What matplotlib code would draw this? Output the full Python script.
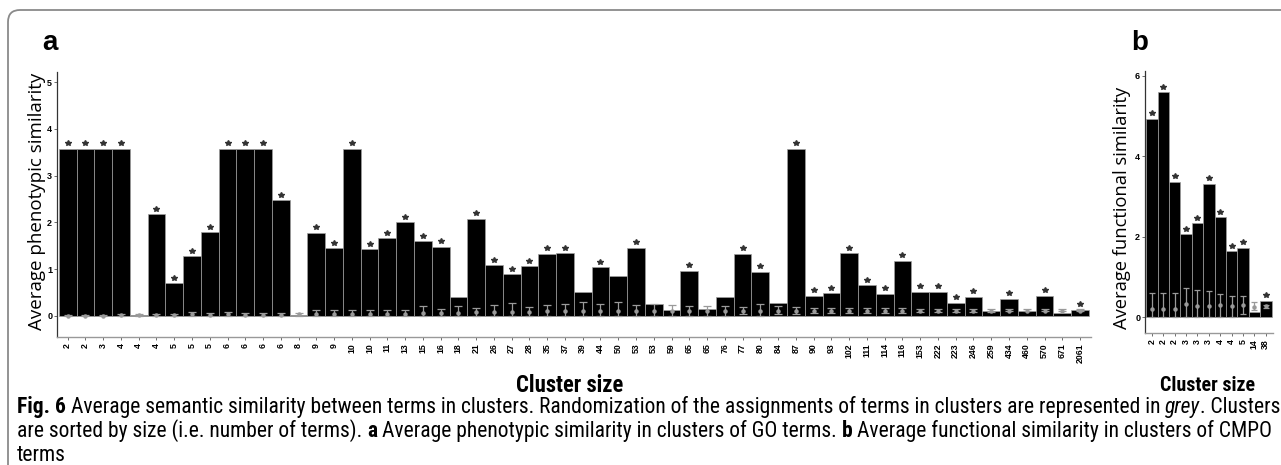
import matplotlib
matplotlib.use("Agg")
import matplotlib.pyplot as plt
from matplotlib import font_manager
from matplotlib.patches import FancyBboxPatch
from matplotlib.transforms import IdentityTransform

# ---------------- data ----------------
labels_a = ["2", "2", "3", "4", "4", "4", "5", "5", "5", "6", "6", "6", "6", "8",
            "9", "9", "10", "10", "11", "13", "15", "16", "18", "21", "26", "27", "28",
            "35", "37", "39", "44", "50", "53", "53", "59", "65", "65", "76", "77", "80",
            "84", "87", "90", "93", "102", "111", "114", "116", "153", "222", "223",
            "246", "259", "434", "460", "570", "671", "2061"]
values_a = [3.58, 3.58, 3.58, 3.58, 0.02, 2.17, 0.69, 1.27, 1.79, 3.58, 3.58, 3.58,
            2.47, 0.02, 1.78, 1.44, 3.58, 1.42, 1.66, 2.00, 1.59, 1.47, 0.41, 2.07,
            1.08, 0.89, 1.06, 1.32, 1.34, 0.50, 1.04, 0.84, 1.45, 0.26, 0.12, 0.96,
            0.14, 0.40, 1.32, 0.94, 0.27, 3.58, 0.42, 0.48, 1.34, 0.65, 0.47, 1.17,
            0.51, 0.51, 0.28, 0.40, 0.10, 0.36, 0.09, 0.42, 0.05, 0.12]
signif_a = [1, 1, 1, 1, 0, 1, 1, 1, 1, 1, 1, 1, 1, 0, 1, 1, 1, 1, 1, 1, 1, 1, 0, 1,
            1, 1, 1, 1, 1, 0, 1, 0, 1, 0, 0, 1, 0, 0, 1, 1, 0, 1, 1, 1, 1, 1, 1, 1,
            1, 1, 1, 1, 0, 1, 0, 1, 0, 1]
rand_mean_a = [0, 0, 0, 0.01, 0.01, 0.01, 0.02, 0.03, 0.02, 0.03, 0.02, 0.02, 0.02, 0.03,
               0.03, 0.03, 0.03, 0.03, 0.03, 0.03, 0.05, 0.05,
               0.06, 0.07, 0.08, 0.08, 0.08, 0.10, 0.10, 0.10, 0.10, 0.10, 0.10, 0.10,
               0.10, 0.10, 0.10, 0.10,
               0.11, 0.11, 0.11, 0.11, 0.11, 0.11, 0.11, 0.11, 0.11, 0.11,
               0.10, 0.10, 0.10, 0.10, 0.10, 0.10, 0.10, 0.10, 0.10, 0.10]
rand_lo_a = [0] * 38 + [0.03, 0.0, 0.03, 0.04, 0.05, 0.05, 0.05, 0.05, 0.05, 0.05,
                        0.07, 0.07, 0.07, 0.07, 0.08, 0.09, 0.09, 0.09, 0.09, 0.09]
rand_hi_a = [0.01, 0.01, 0.01, 0.03, 0.03, 0.03, 0.04, 0.07, 0.05, 0.07, 0.05, 0.05, 0.05, 0.06,
             0.13, 0.13, 0.12, 0.13, 0.12, 0.12, 0.21, 0.14,
             0.20, 0.17, 0.22, 0.27, 0.18, 0.22, 0.26, 0.29, 0.26, 0.29, 0.23, 0.25,
             0.22, 0.21, 0.20, 0.20,
             0.19, 0.24, 0.21, 0.18, 0.17, 0.17, 0.17, 0.17, 0.17, 0.17,
             0.15, 0.15, 0.15, 0.15, 0.14, 0.14, 0.14, 0.14, 0.14, 0.14]

labels_b = ["2", "2", "2", "3", "3", "3", "4", "4", "5", "14", "38"]
values_b = [4.94, 5.59, 3.37, 2.06, 2.34, 3.32, 2.49, 1.64, 1.72, 0.14, 0.41]
signif_b = [1, 1, 1, 1, 1, 1, 1, 1, 1, 0, 1]
rand_mean_b = [0.20, 0.20, 0.20, 0.32, 0.28, 0.27, 0.30, 0.28, 0.30, 0.25, 0.28]
rand_lo_b = [0, 0, 0, 0, 0, 0, 0, 0.02, 0.08, 0.18, 0.24]
rand_hi_b = [0.61, 0.60, 0.60, 0.72, 0.67, 0.65, 0.58, 0.53, 0.52, 0.37, 0.30]

yticks_a = [0, 1, 2, 3, 4, 5]
yticks_b = [0, 2, 4, 6]

# ---------------- figure ----------------
W, H = 1281, 465
fig = plt.figure(figsize=(W / 100, H / 100), dpi=100)
fig.patch.set_facecolor("white")

# look for an installed condensed sans face (caption font of the reference is condensed)
COND_FAM, COND_STRETCH = "Lato", "normal"
_pref = ["Liberation Sans Narrow", "Roboto Condensed", "Open Sans Condensed",
         "Noto Sans", "DejaVu Sans", "Roboto", "Open Sans", "Liberation Sans"]
_found = {}
for _f in font_manager.fontManager.ttflist:
    _nm = _f.name
    if "Mono" in _nm or "Serif" in _nm:
        continue
    _st = str(_f.stretch).lower()
    if "condensed" in _st or "narrow" in _nm.lower() or "condensed" in _nm.lower():
        _found.setdefault(_nm, _f.stretch)
for _nm in _pref:
    if _nm in _found:
        COND_FAM, COND_STRETCH = _nm, _found[_nm]
        break

TICKFONT = ["Liberation Sans", "DejaVu Sans"]
LABFONT = ["Open Sans", "DejaVu Sans"]
CAPFONT = [COND_FAM, "Lato", "DejaVu Sans"]
GREY = "#9a9a9a"


def make_panel(rect, labels, vals, sig, rmean, rlo, rhi, ylim, yticks, star_off, cap):
    ax = fig.add_axes(rect)
    n = len(vals)
    x = list(range(n))
    ax.bar(x, vals, width=1.0, color="black", edgecolor="#a0a0a0", linewidth=0.5, zorder=2)
    lo_err = [m - l for m, l in zip(rmean, rlo)]
    hi_err = [h - m for m, h in zip(rmean, rhi)]
    ax.errorbar(x, rmean, yerr=[lo_err, hi_err], fmt="o", color=GREY, ms=2.2,
                elinewidth=0.9, capsize=cap, capthick=0.9, zorder=3)
    sx = [i for i in x if sig[i]]
    sy = [vals[i] + star_off for i in sx]
    ax.plot(sx, sy, linestyle="none", marker="*", color="#333333", ms=4.2, zorder=4)
    ax.set_xlim(-0.6, n - 0.4)
    ax.set_ylim(*ylim)
    ax.set_xticks(x)
    ax.set_xticklabels(labels, rotation=90, fontsize=6.3, fontweight="bold",
                       family=TICKFONT, va="top")
    ax.set_yticks(yticks)
    ax.set_yticklabels([str(t) for t in yticks], fontsize=6.5, fontweight="bold",
                       family=TICKFONT)
    for s in ("top", "right"):
        ax.spines[s].set_visible(False)
    ax.spines["left"].set_color("#333333")
    ax.spines["left"].set_linewidth(0.9)
    ax.spines["bottom"].set_color("#999999")
    ax.spines["bottom"].set_linewidth(1.0)
    ax.tick_params(axis="x", length=2.5, width=0.6, color="#555555", pad=2)
    ax.tick_params(axis="y", length=2, width=0.6, color="#555555", pad=1.5)
    ax.set_facecolor("white")
    return ax


ax_a = make_panel([57 / W, 1 - 336.7 / H, (1090.7 - 57) / W, (336.7 - 72) / H],
                  labels_a, values_a, signif_a, rand_mean_a, rand_lo_a, rand_hi_a,
                  (-0.45, 5.22), yticks_a, 0.12, 3.0)
ax_b = make_panel([1145 / W, 1 - 333 / H, (1272.7 - 1145) / W, (333 - 70.7) / H],
                  labels_b, values_b, signif_b, rand_mean_b, rand_lo_b, rand_hi_b,
                  (-0.39, 6.13), yticks_b, 0.14, 2.0)

renderer = fig.canvas.get_renderer()


def ext(t):
    return t.get_window_extent(renderer=renderer)


def fit(t, target, horizontal=True):
    bb = ext(t)
    cur = bb.width if horizontal else bb.height
    t.set_fontsize(t.get_fontsize() * target / cur)


# panel letters
fig.text(50 / W, 1 - 43 / H, "a", fontsize=20, fontweight="bold",
         family=TICKFONT, ha="center", va="center")
fig.text(1140 / W, 1 - 43 / H, "b", fontsize=20, fontweight="bold",
         family=TICKFONT, ha="center", va="center")

# axis titles
ya = fig.text(37 / W, 1 - 201 / H, "Average phenotypic similarity", rotation=90,
              fontsize=12.5, family=LABFONT, ha="center", va="center")
fit(ya, 258, horizontal=False)
yb = fig.text(1122 / W, 1 - 208 / H, "Average functional similarity", rotation=90,
              fontsize=12.5, family=LABFONT, ha="center", va="center")
fit(yb, 244, horizontal=False)
xa = fig.text(570 / W, 1 - 385 / H, "Cluster size", fontsize=14, fontweight="bold",
              family=CAPFONT, fontstretch=COND_STRETCH, ha="center", va="center")
fit(xa, 108)
xb = fig.text(1208 / W, 1 - 385 / H, "Cluster size", fontsize=14, fontweight="bold",
              family=CAPFONT, fontstretch=COND_STRETCH, ha="center", va="center")
fit(xb, 96)

# caption
NORMAL = {"family": CAPFONT, "fontstretch": COND_STRETCH}
BOLD = {"family": CAPFONT, "fontstretch": COND_STRETCH, "fontweight": "bold"}
ITAL = {"family": CAPFONT, "fontstretch": COND_STRETCH, "style": "italic"}
line1 = [("Fig. 6", BOLD, False),
         ("Average semantic similarity between terms in clusters. Randomization of the "
          "assignments of terms in clusters are represented in", NORMAL, True),
         ("grey", ITAL, True),
         (". Clusters", NORMAL, False)]
line2 = [("are sorted by size (i.e. number of terms).", NORMAL, False),
         ("a", BOLD, True),
         ("Average phenotypic similarity in clusters of GO terms.", NORMAL, True),
         ("b", BOLD, True),
         ("Average functional similarity in clusters of CMPO", NORMAL, True)]
line3 = [("terms", NORMAL, False)]


def space_width(size):
    t1 = fig.text(0, 0, "x x", fontsize=size, **NORMAL)
    t2 = fig.text(0, 0, "xx", fontsize=size, **NORMAL)
    w = ext(t1).width - ext(t2).width
    t1.remove()
    t2.remove()
    return w


def draw_line(runs, x0, ybase, size, keep=True):
    x = x0
    sw = space_width(size)
    made = []
    for s, kw, sp in runs:
        if sp:
            x += sw
        t = fig.text(x / W, 1 - ybase / H, s, fontsize=size, ha="left", va="baseline", **kw)
        x += ext(t).width
        made.append(t)
    if not keep:
        for t in made:
            t.remove()
    return x - x0


w10 = draw_line(line1, 17, 413, 10, keep=False)
cap_size = 10 * 1258 / w10
draw_line(line1, 17, 413, cap_size)
draw_line(line2, 17, 437, cap_size)
draw_line(line3, 17, 461, cap_size)

# outer rounded frame
frame = FancyBboxPatch((8, -40), 1340, (H - 10) + 40,
                       boxstyle="round,pad=0,rounding_size=12",
                       transform=IdentityTransform(), facecolor="none",
                       edgecolor="#8a8a8a", linewidth=1.3)
fig.add_artist(frame)

fig.savefig("out.png", dpi=100)
